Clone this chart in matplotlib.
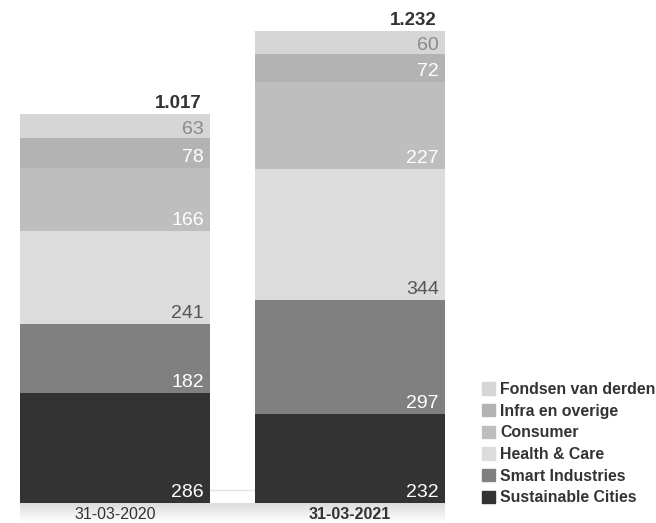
import numpy as np
import matplotlib.pyplot as plt
from matplotlib.patches import Patch

plt.rcParams['font.family'] = ['Liberation Sans', 'DejaVu Sans']

# Data
dates = ['31-03-2020', '31-03-2021']
totals = ['1.017', '1.232']
series = ['Sustainable Cities', 'Smart Industries', 'Health & Care',
          'Consumer', 'Infra en overige', 'Fondsen van derden']
values = {
    'Sustainable Cities': [286, 232],
    'Smart Industries': [182, 297],
    'Health & Care': [241, 344],
    'Consumer': [166, 227],
    'Infra en overige': [78, 72],
    'Fondsen van derden': [63, 60],
}

colors = {
    'Sustainable Cities': '#333333',
    'Smart Industries': '#808080',
    'Health & Care': '#dcdcdc',
    'Consumer': '#bebebe',
    'Infra en overige': '#b3b3b3',
    'Fondsen van derden': '#d6d6d6',
}
text_colors = {
    'Sustainable Cities': 'white',
    'Smart Industries': 'white',
    'Health & Care': '#555555',
    'Consumer': 'white',
    'Infra en overige': 'white',
    'Fondsen van derden': '#8a8a8a',
}

W, H = 656, 523
fig = plt.figure(figsize=(W / 100, H / 100), dpi=100)

# shadow under the bars
sax = fig.add_axes([20 / W, 0, 425 / W, 20 / H])
grad = np.linspace(0.86, 1.0, 50).reshape(-1, 1)
sax.imshow(np.repeat(grad, 10, axis=1), cmap='gray', vmin=0, vmax=1,
           aspect='auto', extent=[0, 1, 0, 1])
sax.axis('off')

ax = fig.add_axes([20 / W, 1 - 503 / H, 425 / W, (503 - 31) / H])
x = np.arange(len(dates))
width = 190 / 235
ax.set_xlim(-width / 2, 1 + width / 2)
ax.set_ylim(0, 1232)

# faint baseline between the bars
ax.axhline(34, color='#e4e4e4', lw=1, zorder=0)

bottom = np.zeros(len(dates))
for s in series:
    v = np.array(values[s])
    ax.bar(x, v, width, bottom=bottom, color=colors[s], zorder=2, label=s)
    off = 3.5 if s == 'Fondsen van derden' else 6
    for i in range(len(dates)):
        ax.annotate(str(v[i]), (x[i] + width / 2, bottom[i]),
                    xytext=(-4.5, off * 0.72), textcoords='offset points',
                    ha='right', va='baseline', fontsize=14,
                    color=text_colors[s], zorder=3)
    bottom += v

for i in range(len(dates)):
    ax.annotate(totals[i], (x[i] + width / 2, bottom[i]),
                xytext=(-6, 4.5), textcoords='offset points',
                ha='right', va='baseline', fontsize=13.5,
                fontweight='bold', color='#333333')

ax.set_xticks(x)
ax.set_xticklabels(dates, fontsize=11.5, color='#333333')
ax.get_xticklabels()[1].set_fontweight('bold')
ax.tick_params(axis='x', length=0, pad=3)
ax.set_yticks([])
for sp in ax.spines.values():
    sp.set_visible(False)
ax.patch.set_alpha(0)

handles = [Patch(color=colors[s]) for s in series[::-1]]
leg = fig.legend(handles, series[::-1], loc='upper left',
                 bbox_to_anchor=(482 / W, 1 - 382 / H), frameon=False,
                 handlelength=0.8, handleheight=0.8, handletextpad=0.35,
                 labelspacing=0.42, borderpad=0, borderaxespad=0,
                 prop={'size': 11.4, 'weight': 'bold'})
for t in leg.get_texts():
    t.set_color('#333333')

fig.savefig('out.png', dpi=100)
